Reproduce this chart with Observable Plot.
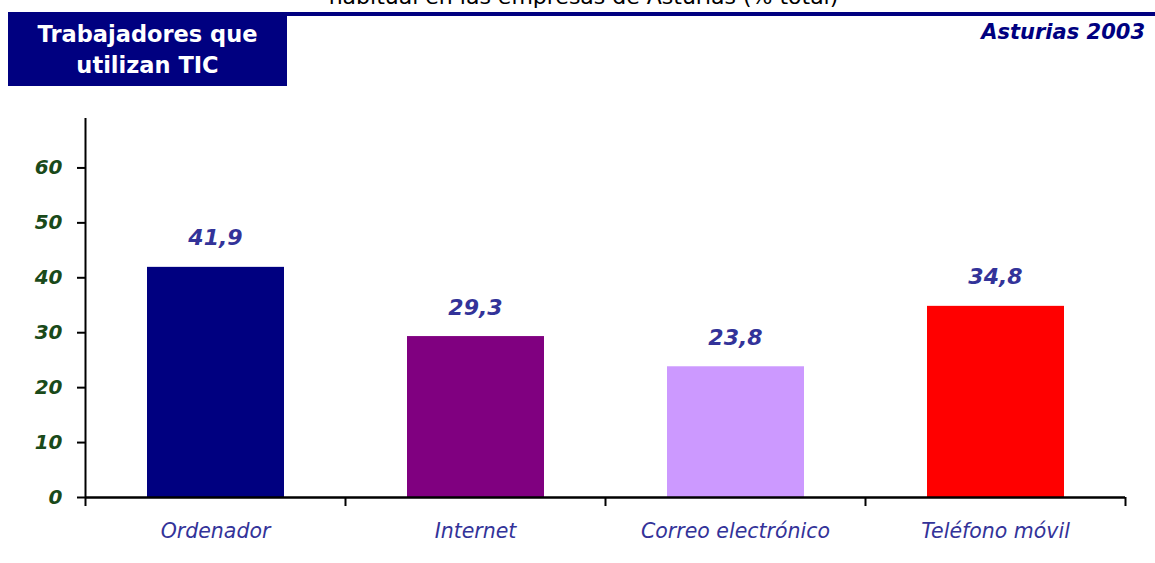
<!DOCTYPE html>
<html>
<head>
<meta charset="utf-8">
<script src="https://cdn.jsdelivr.net/npm/d3@7"></script>
<script src="https://cdn.jsdelivr.net/npm/@observablehq/plot@0.6"></script>
<style>
  html, body { margin: 0; padding: 0; background: #fff; }
  #wrap { position: relative; width: 1155px; height: 563px; overflow: hidden; font-family: "DejaVu Sans", sans-serif; }
  #topline { position: absolute; left: 277px; top: 12px; width: 878px; height: 4px; background: #000080; }
  #box { position: absolute; left: 8px; top: 12px; width: 279px; height: 74px; background: #000080; color: #fff;
         font-weight: bold; font-size: 22.5px; line-height: 31px; text-align: center; box-sizing: border-box; padding-top: 7px; }
  #cut { position: absolute; left: 0; width: 1155px; top: -16px; text-align: center; font-size: 22px; color: #000; padding-left: 12px; box-sizing: border-box;}
  #right { position: absolute; right: 10px; top: 20px; font-size: 21px; font-weight: bold; font-style: italic; color: #000080; }
  #chart { position: absolute; left: 0; top: 0; }
</style>
</head>
<body>
<div id="wrap">
  <div id="cut">habitual en las empresas de Asturias (% total)</div>
  <div id="topline"></div>
  <div id="box">Trabajadores que<br>utilizan TIC</div>
  <div id="right">Asturias 2003</div>
  <div id="chart"></div>
</div>
<script>
const categories = ["Ordenador", "Internet", "Correo electrónico", "Teléfono móvil"];
const values = [41.9, 29.3, 23.8, 34.8];
const yTicks = [0, 10, 20, 30, 40, 50, 60];
const barColors = ["#000080", "#800080", "#cc99ff", "#ff0000"];

const data = categories.map((c, i) => ({category: c, value: values[i], idx: i}));
const fmt = v => v.toFixed(1).replace(".", ",");

const chart = Plot.plot({
  width: 1155,
  height: 563,
  marginLeft: 85,
  marginRight: 30,
  marginTop: 118,
  marginBottom: 66,
  style: {background: "transparent", overflow: "visible", fontFamily: "'DejaVu Sans', sans-serif"},
  x: {type: "linear", domain: [0, categories.length], axis: null},
  y: {domain: [0, 69], axis: null},
  color: {domain: categories, range: barColors},
  marks: [
    Plot.rectY(data, {x1: d => d.idx, x2: d => d.idx + 1, y1: 0, y2: "value", fill: "category", insetLeft: 62, insetRight: 61}),
    Plot.axisY({ticks: yTicks, tickSize: 8, tickPadding: 15, strokeWidth: 2, stroke: "#000", fill: "#1a4a1a", label: null,
      fontSize: 20, fontWeight: "bold", fontStyle: "italic", tickFormat: d => String(d)}),
    Plot.axisX({ticks: d3.range(categories.length + 1), tickSize: 9, strokeWidth: 2, stroke: "#000", tickFormat: () => "", label: null}),
    Plot.ruleX([0], {stroke: "#000", strokeWidth: 2}),
    Plot.ruleY([0], {stroke: "#000", strokeWidth: 2.5}),
    Plot.text(data, {x: d => d.idx + 0.5, y: "value", text: d => fmt(d.value), dy: -29, fill: "#333399",
      fontSize: 22, fontWeight: "bold", fontStyle: "italic"}),
    Plot.text(data, {x: d => d.idx + 0.5, y: 0, text: "category", dy: 34, fill: "#333399",
      fontSize: 20.5, fontStyle: "italic"})
  ]
});
document.getElementById("chart").appendChild(chart);
</script>
</body>
</html>
